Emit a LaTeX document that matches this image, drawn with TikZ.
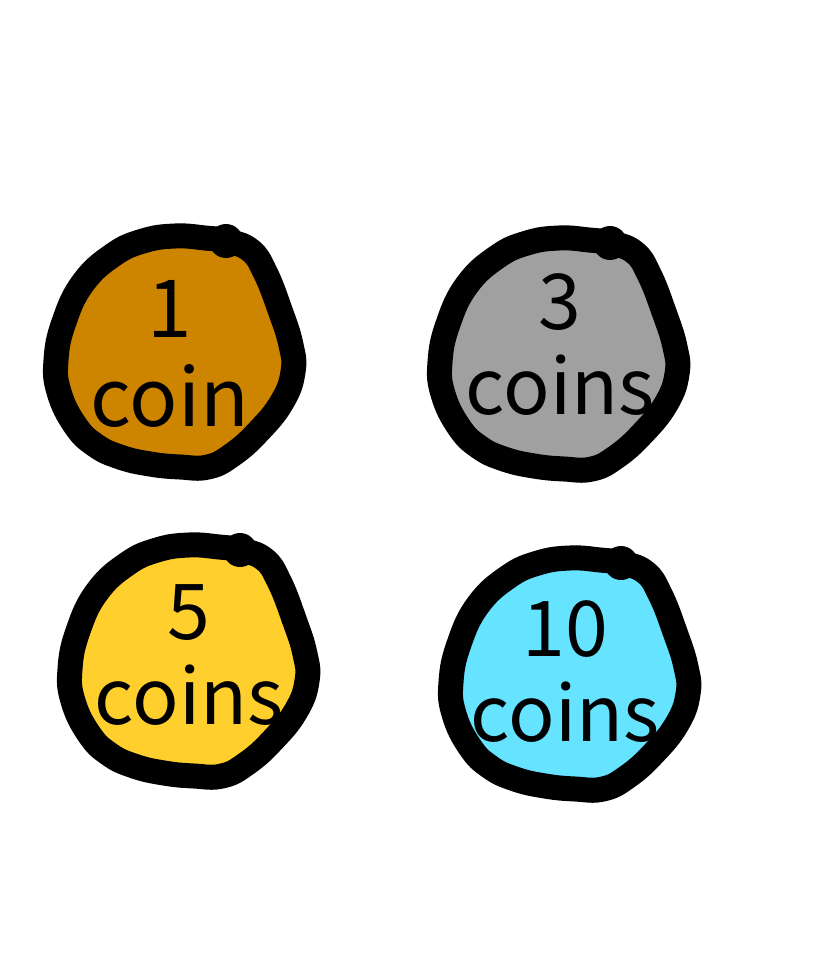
\documentclass[tikz,border=0pt]{standalone}
\usepackage{fontspec}
\setmainfont{Noto Sans CJK JP}
\definecolor{coinA}{HTML}{CD8500}
\definecolor{coinB}{HTML}{A0A0A0}
\definecolor{coinC}{HTML}{FFCF2E}
\definecolor{coinD}{HTML}{66E3FF}
\tikzset{x=1pt,y=-1pt,
  coinedge/.style={draw=black,line width=25pt,line join=round,line cap=round},
  coinlabel/.style={font=\fontsize{77}{85}\selectfont,align=center,inner sep=0pt,text=black},
  biglabel/.style={font=\fontsize{80}{89}\selectfont,align=center,inner sep=0pt,text=black}}
\newcommand{\coinshape}[1]{%
  \draw[coinedge,fill=#1] plot[smooth cycle,tension=0.75] coordinates {
    (226,241) (250,250) (265,272) (280,310) (291,345) (293,372) (282,402)
    (258,432) (232,455) (208,467) (180,467) (150,464) (120,457) (95,445) (75,425)
    (59,392) (56,360) (64,322) (83,283) (113,255) (143,241) (175,236) (205,238)};
  \fill[black] (226,241) circle[radius=17pt];}
\begin{document}
\begin{tikzpicture}
\useasboundingbox (0,0) rectangle (822,973);
\fill[white] (0,0) rectangle (822,973);
\begin{scope}
  \coinshape{coinA}
\end{scope}
\node[biglabel] (one) at (170,354) {1\\coin};
\begin{scope}[shift={(384,2)}]
  \coinshape{coinB}
\end{scope}
\node[coinlabel] (three) at (560,345) {3\\coins};
\begin{scope}[shift={(14,309)}]
  \coinshape{coinC}
\end{scope}
\node[coinlabel] (five) at (189,655) {5\\coins};
\begin{scope}[shift={(395,322)}]
  \coinshape{coinD}
\end{scope}
\node[coinlabel] (ten) at (565,672) {10\\coins};
\end{tikzpicture}
\end{document}
